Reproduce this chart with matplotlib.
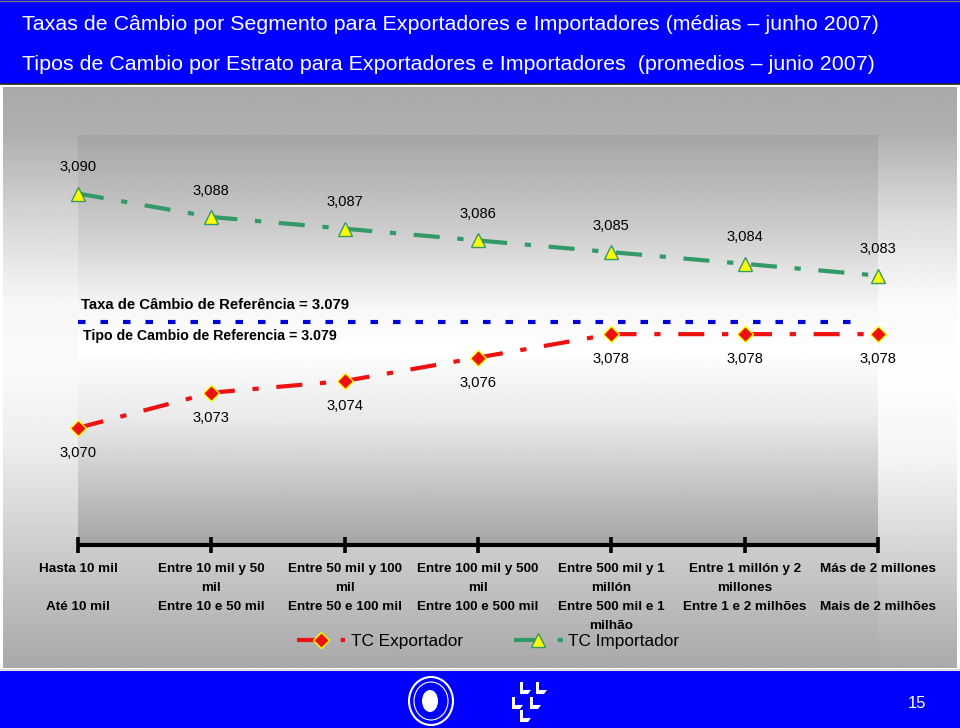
import matplotlib
matplotlib.use('Agg')
import matplotlib.pyplot as plt
import numpy as np
from matplotlib.patches import Rectangle, Ellipse, Polygon

# data
categories_es = ['Hasta 10 mil', 'Entre 10 mil y 50\nmil', 'Entre 50 mil y 100\nmil',
                 'Entre 100 mil y 500\nmil', 'Entre 500 mil y 1\nmillón',
                 'Entre 1 millón y 2\nmillones', 'Más de 2 millones']
categories_pt = ['Até 10 mil', 'Entre 10 e 50 mil', 'Entre 50 e 100 mil', 'Entre 100 e 500 mil',
                 'Entre 500 mil e 1\nmilhão', 'Entre 1 e 2 milhões', 'Mais de 2 milhões']
exportador = [3.070, 3.073, 3.074, 3.076, 3.078, 3.078, 3.078]
importador = [3.090, 3.088, 3.087, 3.086, 3.085, 3.084, 3.083]
referencia = 3.079

plt.rcParams['font.family'] = ['Liberation Sans', 'DejaVu Sans']

W, H = 960, 728
fig = plt.figure(figsize=(W / 100, H / 100), dpi=100)
fig.patch.set_facecolor('white')

# background drawn in pixel coordinates
bg = fig.add_axes([0, 0, 1, 1], zorder=0)
bg.set_xlim(0, W)
bg.set_ylim(H, 0)
bg.axis('off')


def gradient(ax, x0, x1, y0, y1, stops):
    ys = np.linspace(y0, y1, 300)
    g = np.interp(ys, [s[0] for s in stops], [s[1] for s in stops])
    img = np.repeat(g[:, None], 2, axis=1)
    ax.imshow(img, extent=(x0, x1, y1, y0), cmap='gray', vmin=0, vmax=255,
              aspect='auto', interpolation='bilinear', zorder=1)


# top title band
bg.add_patch(Rectangle((0, 0), W, 84, facecolor='#0000ff', edgecolor='none', zorder=2))
bg.plot([0, W], [84, 84], color='#222222', lw=1.2, zorder=3)
bg.plot([0, W], [0.5, 0.5], color='#777777', lw=1, zorder=3)

# outer grey panel with walls
gradient(bg, 3, 957, 87, 668, [(87, 169), (135, 176), (220, 215), (300, 246), (370, 250),
                               (450, 236), (545, 206), (668, 169)])
gradient(bg, 878, 957, 135, 668, [(135, 178), (220, 222), (300, 250), (380, 254), (460, 244),
                                  (545, 215), (668, 170)])
# plot area
gradient(bg, 78, 878, 135, 545, [(135, 165), (230, 205), (310, 248), (350, 255), (420, 233),
                                 (480, 200), (545, 165)])

# bottom band
bg.add_patch(Rectangle((0, 670), W, 58, facecolor='#0000ff', edgecolor='none', zorder=2))
bg.plot([0, W], [669.5, 669.5], color='#dddddd', lw=1.5, zorder=3)
bg.text(917, 703, '15', color='white', fontsize=12, ha='center', va='center', zorder=4)
# logos (rough)
bg.add_patch(Ellipse((431, 701), 44, 48, facecolor='#0000ff', edgecolor='white', lw=1.5, zorder=4))
bg.add_patch(Ellipse((431, 701), 34, 38, facecolor='none', edgecolor='white', lw=0.8, zorder=4))
bg.add_patch(Ellipse((430, 701), 16, 22, facecolor='white', edgecolor='none', zorder=4))
for px, py in [(520, 690), (536, 690), (512, 705), (530, 705), (520, 718)]:
    bg.add_patch(Polygon([(px, py - 8), (px + 3, py - 8), (px + 3, py), (px + 11, py),
                          (px + 8, py + 4), (px, py + 4)], closed=True,
                         facecolor='white', edgecolor='none', zorder=4))

# titles
fig.text(22 / W, 1 - 25 / H, 'Taxas de Câmbio por Segmento para Exportadores e Importadores (médias – junho 2007)',
         color='white', fontsize=15.4, ha='left', va='center')
fig.text(22 / W, 1 - 65 / H, 'Tipos de Cambio por Estrato para Exportadores e Importadores  (promedios – junio 2007)',
         color='white', fontsize=15.4, ha='left', va='center')

# main axes
ax = fig.add_axes([78 / W, 1 - 545 / H, 800 / W, 410 / H], zorder=5)
ax.patch.set_alpha(0)
ax.set_xlim(0, 6)
ax.set_ylim(3.060, 3.095)
for s in ['top', 'right', 'left']:
    ax.spines[s].set_visible(False)
ax.spines['bottom'].set_linewidth(3)
ax.spines['bottom'].set_color('black')
ax.spines['bottom'].set_capstyle('butt')
ax.set_yticks([])
x = np.arange(len(exportador))
ax.set_xticks(x)
ax.set_xticklabels([])
ax.tick_params(axis='x', direction='inout', length=11, width=2.6, color='black')

dashdot = (0, (6.25, 4.25, 1.5, 4.25))
ax.plot([0, 5.9], [referencia, referencia], color='#0000dd', lw=3, linestyle=(0, (1.8, 3.6)),
        clip_on=False, zorder=3)

l_imp, = ax.plot(x, importador, color='#339966', lw=3, linestyle=dashdot, marker='^',
                 markersize=10, markerfacecolor='#ffff00', markeredgecolor='#339966',
                 markeredgewidth=1, clip_on=False, zorder=4, label='TC Importador')
l_exp, = ax.plot(x, exportador, color='#ee1111', lw=3, linestyle=dashdot, marker='D',
                 markersize=8, markerfacecolor='#ee1111', markeredgecolor='#ffff00',
                 markeredgewidth=1, clip_on=False, zorder=4, label='TC Exportador')

for xi, v in zip(x, importador):
    ax.annotate(f'{v:.3f}'.replace('.', ','), (xi, v), xytext=(0, 19), textcoords='offset points',
                ha='center', va='center', fontsize=10.6)
for xi, v in zip(x, exportador):
    ax.annotate(f'{v:.3f}'.replace('.', ','), (xi, v), xytext=(0, -18), textcoords='offset points',
                ha='center', va='center', fontsize=10.6)

ax.text(0.02, 3.0805, 'Taxa de Câmbio de Referência = 3.079', fontsize=10.7, fontweight='bold',
        ha='left', va='center')
ax.text(0.04, 3.0778, 'Tipo de Cambio de Referencia = 3.079', fontsize=10.2, fontweight='bold',
        ha='left', va='center')

# category labels
trans = ax.get_xaxis_transform()
for xi, es, pt in zip(x, categories_es, categories_pt):
    ax.annotate(es, (xi, 0), xycoords=trans, xytext=(0, -13), textcoords='offset points',
                ha='center', va='top', fontsize=9.7, fontweight='bold', linespacing=1.8,
                annotation_clip=False)
    ax.annotate(pt, (xi, 0), xycoords=trans, xytext=(0, -40.5), textcoords='offset points',
                ha='center', va='top', fontsize=9.7, fontweight='bold', linespacing=1.7,
                annotation_clip=False)

fig.legend(handles=[l_exp, l_imp], loc='center', bbox_to_anchor=(488 / W, 1 - 641 / H),
           ncol=2, frameon=False, fontsize=12.4, handlelength=2.8, columnspacing=3.0,
           handletextpad=0.3)

fig.savefig('out.png', dpi=100, facecolor='white')
